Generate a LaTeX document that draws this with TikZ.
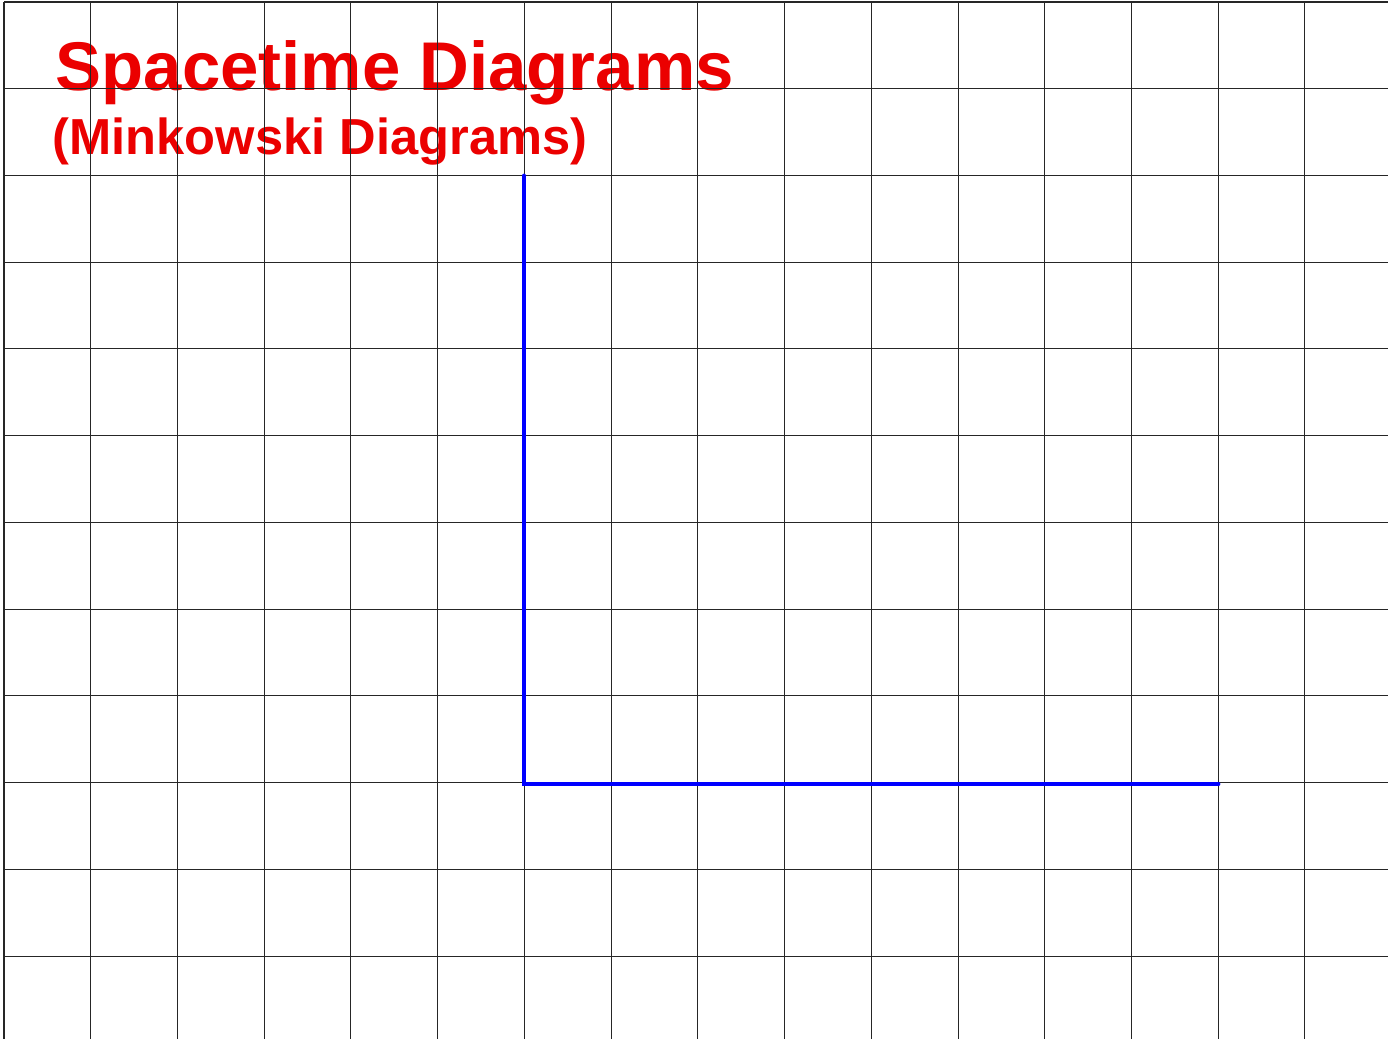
\documentclass[tikz,border=0pt]{standalone}
\usepackage{fontspec}
\setmainfont{Liberation Sans}
\usetikzlibrary{positioning}
\definecolor{titlered}{RGB}{235,0,0}
\definecolor{axisblue}{RGB}{0,0,255}

\tikzset{
  gridline/.style={black!85, line width=0.3pt},
  axisline/.style={axisblue, line width=1.4pt, line cap=round},
  titletext/.style={text=titlered, font=\bfseries\fontsize{19.6}{23}\selectfont, inner sep=0pt, anchor=base west},
  subtext/.style={text=titlered, font=\bfseries\fontsize{14.4}{17}\selectfont, inner sep=0pt, anchor=base west}
}

\begin{document}
\begin{tikzpicture}[x=0.01cm, y=-0.01cm]
  \fill[white] (0,0) rectangle (1400,1039);
  \useasboundingbox (0,0) rectangle (1400,1039);

  % headings
  \node[titletext] (title) at (55,90) {Spacetime Diagrams};
  \node[subtext] (subtitle) at (52,154) {(Minkowski Diagrams)};

  % grid
  \foreach \i in {0,...,15}
    \draw[gridline] ({4+86.73*\i},2) -- ({4+86.73*\i},1039);
  \foreach \j in {0,...,11}
    \draw[gridline] (4,{2+86.73*\j}) -- (1388,{2+86.73*\j});

  % axes
  \coordinate (origin) at (524,784);
  \coordinate (ttop) at (524,176);
  \coordinate (xend) at (1218,784);
  \draw[axisline] (ttop) -- (origin) -- (xend);
\end{tikzpicture}
\end{document}
